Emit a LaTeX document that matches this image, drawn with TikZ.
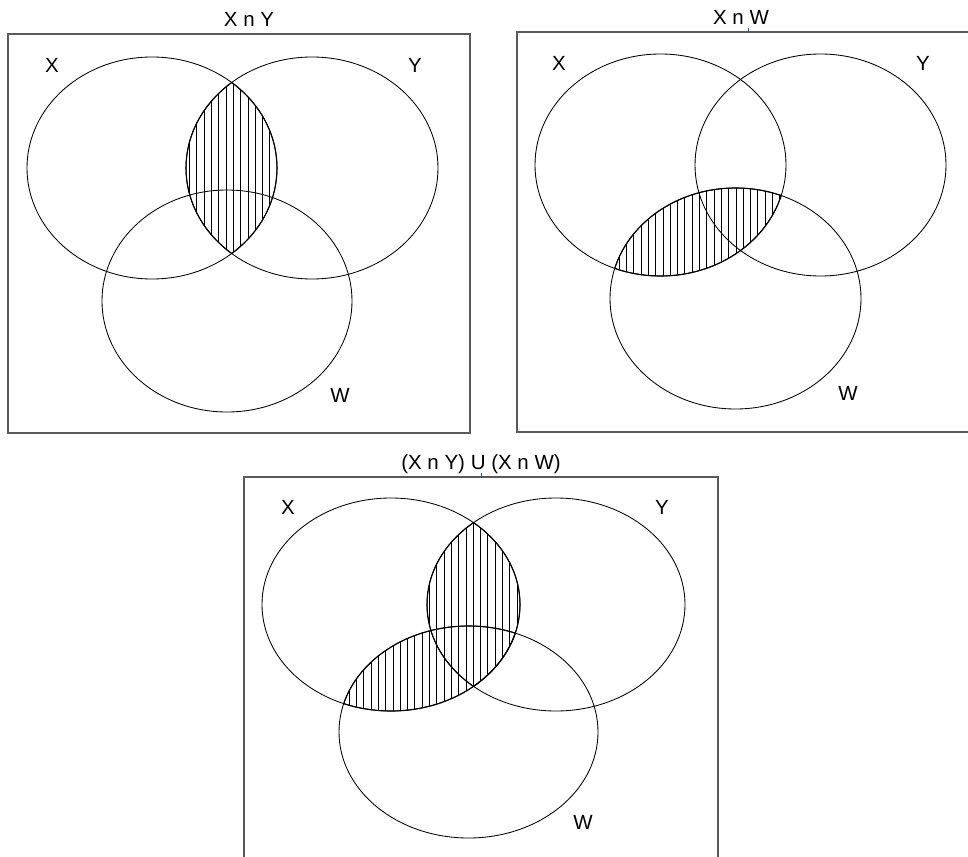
\documentclass[tikz,border=0pt]{standalone}
\usepackage{fontspec}
\setmainfont{Liberation Sans}
\begin{document}
\begin{tikzpicture}[x=1pt,y=-1pt,
  setline/.style={line width=0.85pt,black},
  frame/.style={line width=1.2pt,black!65},
  lens/.style={line width=1.1pt,black},
  hatch/.style={line width=0.75pt,black},
  lbl/.style={anchor=base,inner sep=0pt,font=\fontsize{20.5}{24}\selectfont},
  tick/.style={line width=0.6pt,blue!50!cyan!70!black}]
\useasboundingbox (0,0) rectangle (968,856);

% ---------------- Panel 1 : X n Y ----------------
\coordinate (X1) at (152,168);
\coordinate (Y1) at (312,168);
\coordinate (W1) at (227,301);
\draw[frame] (8,34) rectangle (470,433);
\begin{scope}
  \clip (X1) ellipse [x radius=125pt, y radius=111pt];
  \clip (Y1) ellipse [x radius=126pt, y radius=111pt];
  \foreach \x in {182.2,189.5,...,282} \draw[hatch] (\x,40) -- (\x,300);
\end{scope}
\draw[setline] (X1) ellipse [x radius=125pt, y radius=111pt];
\draw[setline] (Y1) ellipse [x radius=126pt, y radius=111pt];
\draw[setline] (W1) ellipse [x radius=125pt, y radius=111pt];
\begin{scope}
  \clip (X1) ellipse [x radius=125pt, y radius=111pt];
  \draw[lens] (Y1) ellipse [x radius=126pt, y radius=111pt];
\end{scope}
\begin{scope}
  \clip (Y1) ellipse [x radius=126pt, y radius=111pt];
  \draw[lens] (X1) ellipse [x radius=125pt, y radius=111pt];
\end{scope}
\node[lbl] (t1) at (249,26.7) {X n Y};
\node[lbl] (x1) at (52,73) {X};
\node[lbl] (y1) at (415,73) {Y};
\node[lbl] (w1) at (340,402) {W};

% ---------------- Panel 2 : X n W ----------------
\coordinate (X2) at (660.5,165);
\coordinate (Y2) at (820.5,165);
\coordinate (W2) at (735.5,298.5);
\draw[frame] (968,32) -- (517,32) -- (517,432) -- (968,432);
\begin{scope}
  \clip (X2) ellipse [x radius=125.5pt, y radius=111pt];
  \clip (W2) ellipse [x radius=125.5pt, y radius=110.5pt];
  \foreach \x in {604.5,611.8,...,792} \draw[hatch] (\x,170) -- (\x,300);
\end{scope}
\draw[setline] (X2) ellipse [x radius=125.5pt, y radius=111pt];
\draw[setline] (Y2) ellipse [x radius=125.5pt, y radius=111pt];
\draw[setline] (W2) ellipse [x radius=125.5pt, y radius=110.5pt];
\begin{scope}
  \clip (X2) ellipse [x radius=125.5pt, y radius=111pt];
  \draw[lens] (W2) ellipse [x radius=125.5pt, y radius=110.5pt];
\end{scope}
\begin{scope}
  \clip (W2) ellipse [x radius=125.5pt, y radius=110.5pt];
  \draw[lens] (X2) ellipse [x radius=125.5pt, y radius=111pt];
\end{scope}
\coordinate (k2a) at (748,28.5);
\coordinate (k2b) at (748,32);
\draw[tick] (k2a) -- (k2b);
\node[lbl] (t2) at (741,25) {X n W};
\node[lbl] (x2) at (559,71) {X};
\node[lbl] (y2) at (923,71) {Y};
\node[lbl] (w2) at (848,400) {W};

% ---------------- Panel 3 : (X n Y) U (X n W) ----------------
\coordinate (X3) at (391,604.5);
\coordinate (Y3) at (556,604.5);
\coordinate (W3) at (468.5,732);
\draw[frame] (244,860) -- (244,477) -- (718,477) -- (718,860);
\begin{scope}
  \clip (X3) ellipse [x radius=129pt, y radius=106.5pt];
  \begin{scope}
    \clip (Y3) ellipse [x radius=129pt, y radius=106.5pt];
    \foreach \x in {334.5,341.8,...,525} \draw[hatch] (\x,480) -- (\x,740);
  \end{scope}
  \begin{scope}
    \clip (W3) ellipse [x radius=129.5pt, y radius=106pt];
    \foreach \x in {334.5,341.8,...,525} \draw[hatch] (\x,600) -- (\x,740);
  \end{scope}
\end{scope}
\draw[setline] (X3) ellipse [x radius=129pt, y radius=106.5pt];
\draw[setline] (Y3) ellipse [x radius=129pt, y radius=106.5pt];
\draw[setline] (W3) ellipse [x radius=129.5pt, y radius=106pt];
\begin{scope}
  \clip (X3) ellipse [x radius=129pt, y radius=106.5pt];
  \draw[lens] (Y3) ellipse [x radius=129pt, y radius=106.5pt];
  \draw[lens] (W3) ellipse [x radius=129.5pt, y radius=106pt];
\end{scope}
\begin{scope}
  \clip (Y3) ellipse [x radius=129pt, y radius=106.5pt];
  \draw[lens] (X3) ellipse [x radius=129pt, y radius=106.5pt];
\end{scope}
\begin{scope}
  \clip (W3) ellipse [x radius=129.5pt, y radius=106pt];
  \draw[lens] (X3) ellipse [x radius=129pt, y radius=106.5pt];
\end{scope}
\coordinate (k3a) at (481,473);
\coordinate (k3b) at (481,477);
\draw[tick] (k3a) -- (k3b);
\node[lbl] (t3) at (481,469) {(X n Y) U (X n W)};
\node[lbl] (x3) at (288,514) {X};
\node[lbl] (y3) at (662,514) {Y};
\node[lbl] (w3) at (583,829) {W};
\end{tikzpicture}
\end{document}
